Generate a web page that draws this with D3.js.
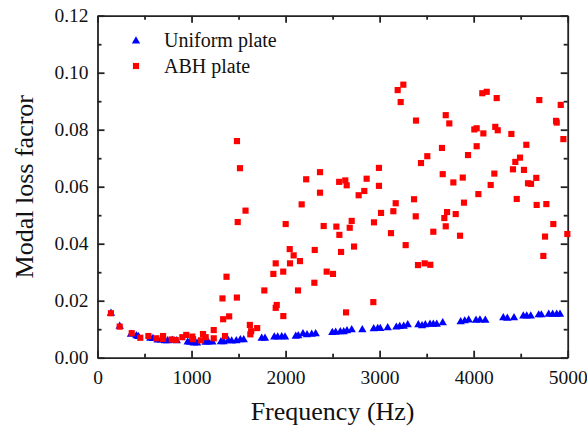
<!DOCTYPE html>
<html>
<head>
<meta charset="utf-8">
<script src="https://cdn.jsdelivr.net/npm/d3@7"></script>
<style>
  body { margin: 0; background: #fff; }
  text { font-family: "Liberation Serif", "Times New Roman", serif; }
</style>
</head>
<body>
<svg id="svg"></svg>
<script>
// Uniform plate (blue triangles): frequency Hz, loss factor
var uniformFreq = [143, 236, 356, 413, 434, 562, 590, 640, 675, 718, 746, 796, 843, 959, 987, 1023, 1058, 1150, 1178, 1221,
    1313, 1342, 1391, 1427, 1476, 1519, 1555, 1746, 1781, 1880, 1916, 1959, 1994, 2108, 2135, 2185, 2228, 2278, 2320,
    2497, 2533, 2582, 2618, 2653, 2703, 2816, 2937, 2980, 3007, 3086, 3178, 3214, 3256, 3299, 3412, 3451, 3486, 3536,
    3571, 3607, 3671, 3862, 3905, 3947, 4025, 4067, 4124, 4315, 4358, 4429, 4528, 4564, 4607, 4692, 4720, 4798, 4840,
    4883, 4918];
var uniformLoss = [0.0156, 0.0110, 0.0082, 0.0077, 0.0074, 0.0068, 0.0067, 0.0062, 0.0062, 0.0059, 0.0059, 0.0061, 0.0059,
    0.0055, 0.0054, 0.0051, 0.0051, 0.0054, 0.0055, 0.0055, 0.0056, 0.0056, 0.0060, 0.0058, 0.0059, 0.0063, 0.0063,
    0.0068, 0.0068, 0.0072, 0.0072, 0.0073, 0.0072, 0.0075, 0.0077, 0.0084, 0.0080, 0.0082, 0.0084, 0.0088, 0.0089,
    0.0091, 0.0091, 0.0094, 0.0098, 0.0098, 0.0101, 0.0102, 0.0102, 0.0105, 0.0107, 0.0109, 0.0110, 0.0115, 0.0115,
    0.0112, 0.0115, 0.0117, 0.0117, 0.0117, 0.0122, 0.0126, 0.0129, 0.0132, 0.0131, 0.0132, 0.0131, 0.0140, 0.0138,
    0.0140, 0.0146, 0.0146, 0.0146, 0.0150, 0.0150, 0.0152, 0.0152, 0.0152, 0.0152];

// ABH plate (red squares)
var abhFreq = [143, 236, 364, 455, 541, 626, 697, 697, 789, 832, 902, 944, 1008, 1016, 1101, 1122, 1150, 1236, 1236, 1329,
    1336, 1356, 1372, 1400, 1482, 1483, 1491, 1515, 1574, 1620, 1634, 1625, 1698, 1774, 1870, 1895, 1895, 1906, 1975,
    1976, 2001, 2044, 2047, 2086, 2132, 2153, 2171, 2219, 2306, 2310, 2366, 2366, 2405, 2437, 2504, 2540, 2570, 2572,
    2590, 2635, 2643, 2650, 2682, 2703, 2728, 2777, 2837, 2862, 2933, 2940, 2993, 2993, 3015, 3121, 3146, 3171, 3192,
    3224, 3252, 3277, 3366, 3384, 3387, 3408, 3440, 3479, 3507, 3539, 3571, 3663, 3671, 3688, 3703, 3703, 3717, 3741,
    3784, 3809, 3855, 3884, 3897, 3940, 4007, 4032, 4032, 4050, 4092, 4103, 4139, 4181, 4220, 4230, 4245, 4256, 4401,
    4418, 4443, 4458, 4493, 4535, 4560, 4578, 4610, 4666, 4670, 4698, 4741, 4759, 4773, 4847, 4876, 4883, 4926, 4954,
    4996];
var abhLoss = [0.0156, 0.0109, 0.0086, 0.0070, 0.0076, 0.0068, 0.0076, 0.0066, 0.0064, 0.0062, 0.0072, 0.0080, 0.0074,
    0.0065, 0.0061, 0.0083, 0.0072, 0.0097, 0.0068, 0.0208, 0.0135, 0.0076, 0.0284, 0.0145, 0.0211, 0.0760, 0.0476,
    0.0665, 0.0516, 0.0115, 0.0093, 0.0082, 0.0104, 0.0236, 0.0294, 0.0331, 0.0175, 0.0185, 0.0302, 0.0146, 0.0469,
    0.0381, 0.0331, 0.0359, 0.0236, 0.0339, 0.0538, 0.0626, 0.0263, 0.0378, 0.0651, 0.0579, 0.0462, 0.0302, 0.0294,
    0.0460, 0.0617, 0.0431, 0.0371, 0.0622, 0.0159, 0.0605, 0.0456, 0.0480, 0.0390, 0.0570, 0.0585, 0.0628, 0.0195,
    0.0475, 0.0666, 0.0603, 0.0508, 0.0437, 0.0514, 0.0542, 0.0939, 0.0897, 0.0958, 0.0395, 0.0556, 0.0496, 0.0832,
    0.0325, 0.0683, 0.0331, 0.0707, 0.0326, 0.0442, 0.0736, 0.0644, 0.0490, 0.0851, 0.0461, 0.0511, 0.0822, 0.0615,
    0.0504, 0.0428, 0.0632, 0.0544, 0.0711, 0.0801, 0.0805, 0.0742, 0.0574, 0.0928, 0.0787, 0.0933, 0.0606, 0.0646,
    0.0810, 0.0911, 0.0798, 0.0785, 0.0661, 0.0687, 0.0557, 0.0702, 0.0659, 0.0747, 0.0612, 0.0610, 0.0631, 0.0536,
    0.0904, 0.0357, 0.0425, 0.0539, 0.0469, 0.0831, 0.0825, 0.0887, 0.0767, 0.0434];

var xMajor = [0, 1000, 2000, 3000, 4000, 5000];
var xMinor = [500, 1500, 2500, 3500, 4500];
var yMajor = [0, 0.02, 0.04, 0.06, 0.08, 0.10, 0.12];
var yMinor = [0.01, 0.03, 0.05, 0.07, 0.09, 0.11];
var legendNames = ["Uniform plate", "ABH plate"];

var margin = {top: 15.7, right: 19.3, bottom: 71.3, left: 97.5};
var width = 587 - margin.left - margin.right;
var height = 429 - margin.top - margin.bottom;

var svg = d3.select("#svg").attr("width", 587).attr("height", 429);
var g = svg.append("g").attr("transform", `translate(${margin.left}, ${margin.top})`);

var xScale = d3.scaleLinear().domain([0, 5000]).range([0, width]);
var yScale = d3.scaleLinear().domain([0, 0.12]).range([height, 0]);

function styleAxis(sel) {
    sel.selectAll("path, line").attr("stroke", "#222").attr("stroke-width", 1.8);
    sel.selectAll("text").attr("fill", "#111").attr("font-size", 19.5)
        .attr("font-family", "Liberation Serif, Times New Roman, serif");
}

// bottom
g.append("g").attr("transform", `translate(0, ${height})`)
    .call(d3.axisBottom(xScale).tickValues(xMajor).tickSizeInner(-7).tickSizeOuter(0).tickPadding(12).tickFormat(d3.format("d")))
    .call(styleAxis);
g.append("g").attr("transform", `translate(0, ${height})`)
    .call(d3.axisBottom(xScale).tickValues(xMinor).tickSizeInner(-4).tickSizeOuter(0).tickFormat(""))
    .call(styleAxis).select(".domain").remove();
// top
g.append("g")
    .call(d3.axisTop(xScale).tickValues(xMajor).tickSizeInner(-7).tickSizeOuter(0).tickFormat(""))
    .call(styleAxis);
g.append("g")
    .call(d3.axisTop(xScale).tickValues(xMinor).tickSizeInner(-4).tickSizeOuter(0).tickFormat(""))
    .call(styleAxis).select(".domain").remove();
// left
g.append("g")
    .call(d3.axisLeft(yScale).tickValues(yMajor).tickSizeInner(-7).tickSizeOuter(0).tickPadding(9).tickFormat(d3.format(".2f")))
    .call(styleAxis);
g.append("g")
    .call(d3.axisLeft(yScale).tickValues(yMinor).tickSizeInner(-4).tickSizeOuter(0).tickFormat(""))
    .call(styleAxis).select(".domain").remove();
// right
g.append("g").attr("transform", `translate(${width}, 0)`)
    .call(d3.axisRight(yScale).tickValues(yMajor).tickSizeInner(-7).tickSizeOuter(0).tickFormat(""))
    .call(styleAxis);
g.append("g").attr("transform", `translate(${width}, 0)`)
    .call(d3.axisRight(yScale).tickValues(yMinor).tickSizeInner(-4).tickSizeOuter(0).tickFormat(""))
    .call(styleAxis).select(".domain").remove();

var tri = d3.symbol().type(d3.symbolTriangle).size(30);
var sq = d3.symbol().type(d3.symbolSquare).size(38);

var uniformData = uniformFreq.map((f, i) => ({f: f, v: uniformLoss[i]}));
var abhData = abhFreq.map((f, i) => ({f: f, v: abhLoss[i]}));

g.append("g").selectAll("path").data(uniformData).enter().append("path")
    .attr("d", tri)
    .attr("fill", "#0000ff")
    .attr("transform", d => `translate(${xScale(d.f)}, ${yScale(d.v)})`);

g.append("g").selectAll("path").data(abhData).enter().append("path")
    .attr("d", sq)
    .attr("fill", "#ff0000")
    .attr("transform", d => `translate(${xScale(d.f)}, ${yScale(d.v)})`);

// legend
var legend = svg.append("g");
legend.append("path").attr("d", tri).attr("fill", "#0000ff").attr("transform", "translate(136, 41)");
legend.append("path").attr("d", sq).attr("fill", "#ff0000").attr("transform", "translate(136, 66)");
legend.selectAll("text").data(legendNames).enter().append("text")
    .attr("x", 164)
    .attr("y", (d, i) => 47 + i * 25.5)
    .attr("font-size", 20)
    .attr("fill", "#111")
    .text(d => d);

// axis titles
svg.append("text")
    .attr("x", margin.left + width / 2)
    .attr("y", 420)
    .attr("text-anchor", "middle")
    .attr("font-size", 26)
    .attr("fill", "#111")
    .text("Frequency (Hz)");

svg.append("text")
    .attr("transform", `translate(33, ${margin.top + height / 2}) rotate(-90)`)
    .attr("text-anchor", "middle")
    .attr("font-size", 26)
    .attr("fill", "#111")
    .text("Modal loss facror");
</script>
</body>
</html>
